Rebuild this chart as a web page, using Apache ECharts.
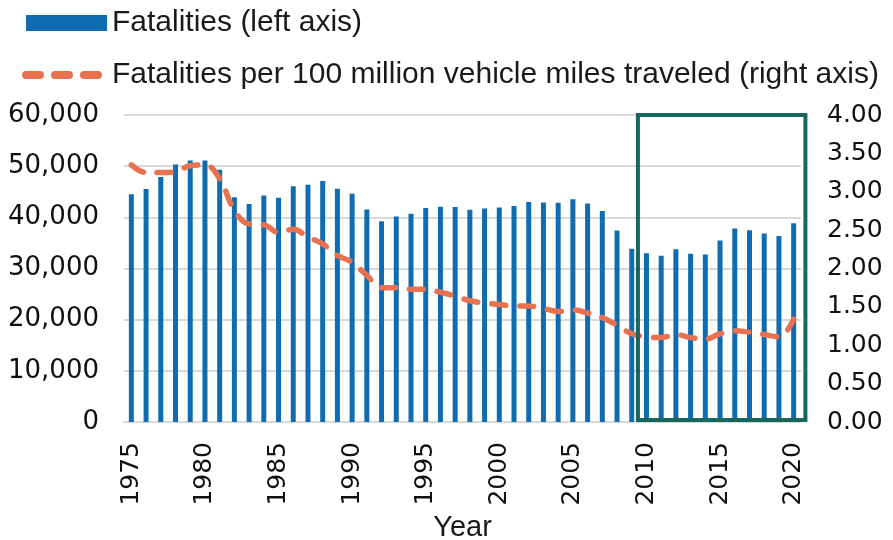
<!DOCTYPE html>
<html>
<head>
<meta charset="utf-8">
<script src="https://cdn.jsdelivr.net/npm/echarts@6/dist/echarts.min.js"></script>
<style>
  html, body { margin: 0; padding: 0; background: #fff; }
  #chart { width: 893px; height: 540px; }
</style>
</head>
<body>
<div id="chart"></div>
<script>
  var years = ['1975','1976','1977','1978','1979','1980','1981','1982','1983','1984',
    '1985','1986','1987','1988','1989','1990','1991','1992','1993','1994',
    '1995','1996','1997','1998','1999','2000','2001','2002','2003','2004',
    '2005','2006','2007','2008','2009','2010','2011','2012','2013','2014',
    '2015','2016','2017','2018','2019','2020'];
  var fatalities = [44525, 45523, 47878, 50331, 51093, 51091, 49301, 43945, 42589, 44257,
    43825, 46087, 46390, 47087, 45582, 44599, 41508, 39250, 40150, 40716,
    41817, 42065, 42013, 41501, 41717, 41945, 42196, 43005, 42884, 42836,
    43510, 42708, 41259, 37423, 33883, 32999, 32479, 33782, 32893, 32744,
    35484, 37806, 37473, 36835, 36355, 38824];
  var fatalityRate = [3.35, 3.25, 3.25, 3.26, 3.34, 3.35, 3.17, 2.76, 2.58, 2.57,
    2.47, 2.51, 2.41, 2.32, 2.17, 2.08, 1.91, 1.75, 1.75, 1.73,
    1.73, 1.69, 1.64, 1.58, 1.55, 1.53, 1.51, 1.51, 1.48, 1.44,
    1.46, 1.42, 1.36, 1.26, 1.15, 1.11, 1.10, 1.14, 1.10, 1.08,
    1.15, 1.19, 1.17, 1.14, 1.11, 1.34];
  var boxFrom = '2010';
  var boxTo = '2020';

  var barName = 'Fatalities (left axis)';
  var lineName = 'Fatalities per 100 million vehicle miles traveled (right axis)';

  var chart = echarts.init(document.getElementById('chart'));
  var option = {
    animation: false,
    backgroundColor: '#fff',
    grid: { left: 124, right: 92, top: 115, bottom: 118, containLabel: false, outerBoundsMode: 'none' },
    legend: {
      orient: 'vertical',
      left: 17,
      top: 3,
      itemWidth: 81,
      itemHeight: 16,
      itemGap: 22,
      textStyle: { fontFamily: 'Liberation Sans', fontSize: 30, color: '#1a1a1a', lineHeight: 30 },
      data: [
        { name: barName, icon: 'rect' },
        {
          name: lineName,
          itemStyle: { opacity: 0 },
          lineStyle: { width: 8, type: [14, 15], cap: 'round', opacity: 1 }
        }
      ]
    },
    xAxis: {
      type: 'category',
      data: years,
      axisTick: { show: false },
      axisLine: { lineStyle: { color: '#d9d9d9', width: 2 } },
      axisLabel: {
        interval: 4, rotate: 90, margin: 20,
        fontFamily: 'DejaVu Sans', fontSize: 25, color: '#111'
      },
      name: 'Year',
      nameLocation: 'middle',
      nameGap: 86,
      nameTextStyle: { fontFamily: 'Liberation Sans', fontSize: 29, color: '#1a1a1a' }
    },
    yAxis: [
      {
        type: 'value', min: 0, max: 60000, interval: 10000,
        axisLine: { show: false }, axisTick: { show: false },
        splitLine: { lineStyle: { color: '#d9d9d9', width: 2 } },
        axisLabel: {
          margin: 25, fontFamily: 'DejaVu Sans', fontSize: 26, color: '#111',
          formatter: function (v) { return v.toLocaleString('en-US'); }
        }
      },
      {
        type: 'value', min: 0, max: 4, interval: 0.5,
        axisLine: { show: false }, axisTick: { show: false },
        splitLine: { show: false },
        axisLabel: {
          margin: 26, fontFamily: 'DejaVu Sans', fontSize: 25, color: '#111',
          formatter: function (v) { return v.toFixed(2); }
        }
      }
    ],
    series: [
      {
        name: barName,
        type: 'bar',
        yAxisIndex: 0,
        barWidth: 5,
        itemStyle: { color: '#0f6cb0' },
        data: fatalities
      },
      {
        name: lineName,
        type: 'line',
        yAxisIndex: 1,
        smooth: 0.4,
        symbol: 'none',
        itemStyle: { color: '#e8714f' },
        lineStyle: { color: '#e8714f', width: 5.5, type: [14, 14], cap: 'round' },
        data: fatalityRate
      }
    ]
  };
  option && chart.setOption(option);

  // highlight box round the last decade
  var band = chart.convertToPixel({ xAxisIndex: 0 }, years[1]) - chart.convertToPixel({ xAxisIndex: 0 }, years[0]);
  var bx0 = chart.convertToPixel({ xAxisIndex: 0 }, boxFrom) - 0.58 * band;
  var bx1 = chart.convertToPixel({ xAxisIndex: 0 }, boxTo) + 0.8 * band;
  var by0 = chart.convertToPixel({ yAxisIndex: 0 }, 60000);
  var by1 = chart.convertToPixel({ yAxisIndex: 0 }, 0) - 2;
  chart.setOption({
    graphic: [{
      type: 'rect',
      z: 100,
      shape: { x: bx0, y: by0, width: bx1 - bx0, height: by1 - by0 },
      style: { fill: 'none', stroke: '#17675e', lineWidth: 4 }
    }]
  });
</script>
</body>
</html>
